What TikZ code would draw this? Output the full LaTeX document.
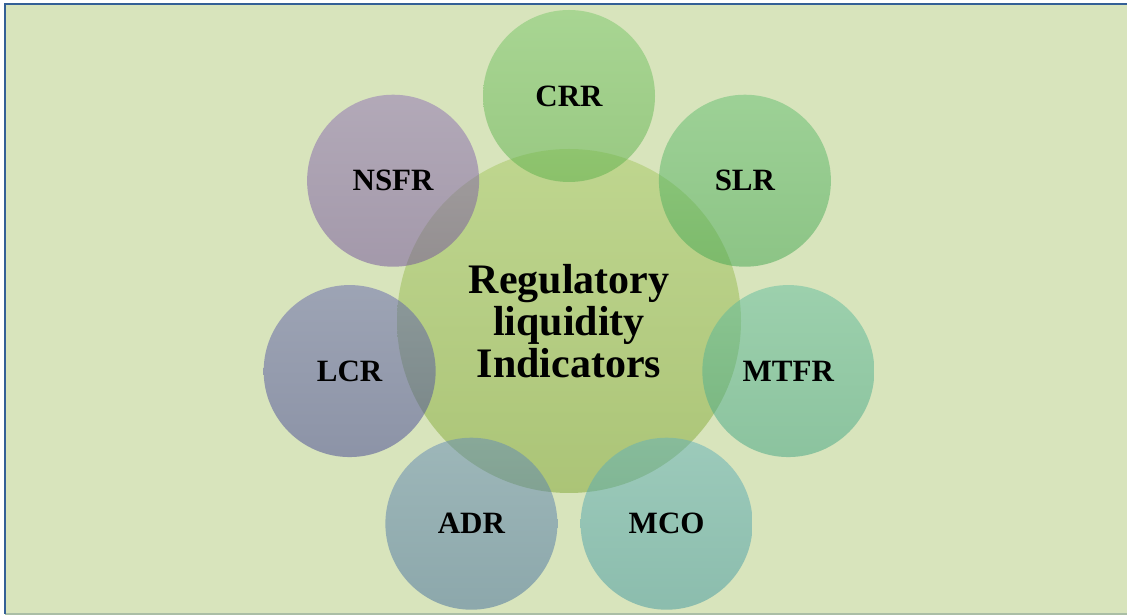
\documentclass[tikz,border=0pt]{standalone}
\usepackage{fontspec}
\setmainfont{Liberation Serif}

\definecolor{bgfill}{RGB}{216,228,188}
\definecolor{frameblue}{RGB}{52,96,150}
\definecolor{framegray}{RGB}{170,190,165}
\definecolor{hubC}{RGB}{150,190,70}
\definecolor{crrC}{RGB}{98,190,80}
\definecolor{slrC}{RGB}{72,180,88}
\definecolor{mtfrC}{RGB}{70,178,142}
\definecolor{mcoC}{RGB}{70,164,174}
\definecolor{adrC}{RGB}{72,118,170}
\definecolor{lcrC}{RGB}{72,74,160}
\definecolor{nsfrC}{RGB}{122,86,168}

\begin{document}
\begin{tikzpicture}[x=1pt,y=1pt,
    hub/.style={circle, minimum size=344pt, inner sep=0pt, top color=hubC!80!white, bottom color=hubC!90!black,
      fill opacity=0.55, text opacity=1, align=center, font=\fontsize{42}{42}\selectfont\bfseries},
    sat/.style={circle, minimum size=172pt, inner sep=0pt, fill opacity=0.5, text opacity=1,
      font=\fontsize{31}{32}\selectfont\bfseries}]
  \useasboundingbox (0,0) rectangle (1127,615);

  % page frame
  \fill[bgfill] (5,1) rectangle (1127,611);
  \draw[framegray, line width=1.2pt] (5,1) -- (1127,1);
  \draw[frameblue, line width=1.2pt] (5,1) -- (5,611) -- (1127,611);

  % centre circle
  \node[hub] (hub) at (569,294) {Regulatory\\liquidity\\Indicators};

  % satellites, clockwise from the top
  \foreach \name/\col [count=\i] in {CRR/crrC, SLR/slrC, MTFR/mtfrC, MCO/mcoC, ADR/adrC, LCR/lcrC, NSFR/nsfrC} {
    \pgfmathsetmacro\ang{90-(\i-1)*360/7}
    \path (hub.center) ++(\ang:225) node[sat, top color=\col!85!white, bottom color=\col!92!black] (\name) {\name};
  }
\end{tikzpicture}
\end{document}
